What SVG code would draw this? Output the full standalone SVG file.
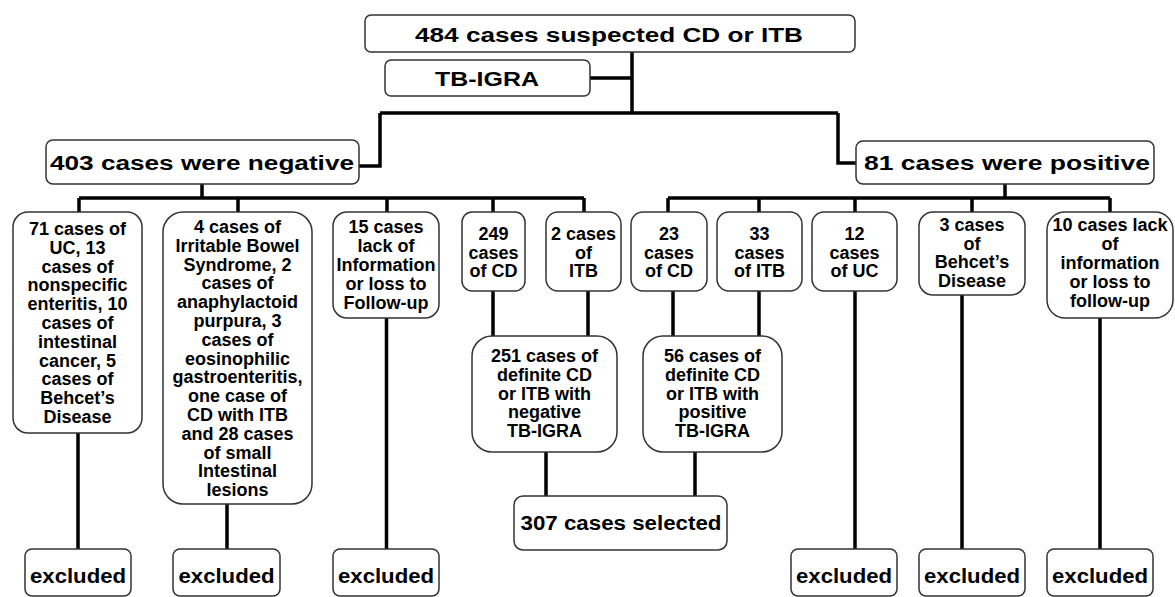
<svg xmlns="http://www.w3.org/2000/svg" width="1175" height="597" viewBox="0 0 1175 597">
<style>
.box{fill:#fff;stroke:#333;stroke-width:1.5}
.t{font-family:"Liberation Sans",Arial,sans-serif;font-weight:bold;fill:#000;text-anchor:middle}
.big{font-size:20px}
.row{font-size:18px}
.ex{font-size:20px}
.c{fill:none;stroke:#000;stroke-width:3.5;stroke-linecap:butt;stroke-linejoin:miter}
</style>
<rect width="1175" height="597" fill="#fff"/>
<g id="connectors">
<path class="c" d="M632,52V113M590,78H632M380,113H838M380,113V166H359M838,113V163H856"/>
<path class="c" d="M202,184V198M79,198H584M79,198V212M238,198V212M387,198V212M493,198V212M584,198V212"/>
<path class="c" d="M1005,184V198M668,198H1110M668,198V212M759,198V212M855,198V212M972,198V212M1110,198V212"/>
<path class="c" d="M493,291V336M588,291V336M673,291V336M759,291V336"/>
<path class="c" d="M546,452V496M695,452V496"/>
<path class="c" d="M78,433V549M227,504V549M386.5,318V549M855,291V549M962,295V549M1100,318V549"/>
</g>
<g id="n-top"><rect class="box" x="365" y="15" width="490" height="37" rx="6"/><text class="t big" x="609" y="42" textLength="388" lengthAdjust="spacingAndGlyphs">484 cases suspected CD or ITB</text></g>
<g id="n-igra"><rect class="box" x="385" y="60" width="205" height="36" rx="6"/><text class="t big" x="487" y="86" textLength="104" lengthAdjust="spacingAndGlyphs">TB-IGRA</text></g>
<g id="n-neg"><rect class="box" x="46" y="140" width="313" height="44" rx="7"/><text class="t big" x="202" y="170" textLength="304" lengthAdjust="spacingAndGlyphs">403 cases were negative</text></g>
<g id="n-pos"><rect class="box" x="856" y="141" width="298" height="43" rx="7"/><text class="t big" x="1007" y="170" textLength="286" lengthAdjust="spacingAndGlyphs">81 cases were positive</text></g>
<g id="n-b1"><rect class="box" x="13" y="212" width="129" height="221" rx="15"/><text class="t row" x="77.5" y="235"><tspan x="77.5">71 cases of</tspan><tspan x="77.5" dy="18.8">UC, 13</tspan><tspan x="77.5" dy="18.8">cases of</tspan><tspan x="77.5" dy="18.8">nonspecific</tspan><tspan x="77.5" dy="18.8">enteritis, 10</tspan><tspan x="77.5" dy="18.8">cases of</tspan><tspan x="77.5" dy="18.8">intestinal</tspan><tspan x="77.5" dy="18.8">cancer, 5</tspan><tspan x="77.5" dy="18.8">cases of</tspan><tspan x="77.5" dy="18.8">Behcet’s</tspan><tspan x="77.5" dy="18.8">Disease</tspan></text></g>
<g id="n-b2"><rect class="box" x="163" y="212" width="149" height="292" rx="20"/><text class="t row" x="237.5" y="233"><tspan x="237.5">4 cases of</tspan><tspan x="237.5" dy="18.8">Irritable Bowel</tspan><tspan x="237.5" dy="18.8">Syndrome, 2</tspan><tspan x="237.5" dy="18.8">cases of</tspan><tspan x="237.5" dy="18.8">anaphylactoid</tspan><tspan x="237.5" dy="18.8">purpura, 3</tspan><tspan x="237.5" dy="18.8">cases of</tspan><tspan x="237.5" dy="18.8">eosinophilic</tspan><tspan x="237.5" dy="18.8">gastroenteritis,</tspan><tspan x="237.5" dy="18.8">one case of</tspan><tspan x="237.5" dy="18.8">CD with ITB</tspan><tspan x="237.5" dy="18.8">and 28 cases</tspan><tspan x="237.5" dy="18.8">of small</tspan><tspan x="237.5" dy="18.8">Intestinal</tspan><tspan x="237.5" dy="18.8">lesions</tspan></text></g>
<g id="n-b3"><rect class="box" x="333" y="212" width="106" height="106" rx="14"/><text class="t row" x="386" y="233"><tspan x="386">15 cases</tspan><tspan x="386" dy="19">lack of</tspan><tspan x="386" dy="19">Information</tspan><tspan x="386" dy="19">or loss to</tspan><tspan x="386" dy="19">Follow-up</tspan></text></g>
<g id="n-b4"><rect class="box" x="462" y="212" width="63" height="79" rx="10"/><text class="t row" x="493.5" y="240"><tspan x="493.5">249</tspan><tspan x="493.5" dy="18.5">cases</tspan><tspan x="493.5" dy="18.5">of CD</tspan></text></g>
<g id="n-b5"><rect class="box" x="546" y="212" width="75" height="79" rx="12"/><text class="t row" x="583.5" y="240"><tspan x="583.5">2 cases</tspan><tspan x="583.5" dy="18.5">of</tspan><tspan x="583.5" dy="18.5">ITB</tspan></text></g>
<g id="n-b6"><rect class="box" x="631" y="212" width="76" height="79" rx="12"/><text class="t row" x="669" y="240"><tspan x="669">23</tspan><tspan x="669" dy="18.5">cases</tspan><tspan x="669" dy="18.5">of CD</tspan></text></g>
<g id="n-b7"><rect class="box" x="717" y="212" width="85" height="79" rx="12"/><text class="t row" x="759.5" y="240"><tspan x="759.5">33</tspan><tspan x="759.5" dy="18.5">cases</tspan><tspan x="759.5" dy="18.5">of ITB</tspan></text></g>
<g id="n-b8"><rect class="box" x="812" y="212" width="85" height="79" rx="12"/><text class="t row" x="854.5" y="240"><tspan x="854.5">12</tspan><tspan x="854.5" dy="18.5">cases</tspan><tspan x="854.5" dy="18.5">of UC</tspan></text></g>
<g id="n-b9"><rect class="box" x="919" y="212" width="106" height="83" rx="14"/><text class="t row" x="972" y="231"><tspan x="972">3 cases</tspan><tspan x="972" dy="18.7">of</tspan><tspan x="972" dy="18.7">Behcet’s</tspan><tspan x="972" dy="18.7">Disease</tspan></text></g>
<g id="n-b10"><rect class="box" x="1047" y="212" width="126" height="106" rx="18"/><text class="t row" x="1110" y="231"><tspan x="1110">10 cases lack</tspan><tspan x="1110" dy="19">of</tspan><tspan x="1110" dy="19">information</tspan><tspan x="1110" dy="19">or loss to</tspan><tspan x="1110" dy="19">follow-up</tspan></text></g>
<g id="n-neg2"><rect class="box" x="472" y="336" width="145" height="116" rx="20"/><text class="t row" x="544.5" y="362"><tspan x="544.5">251 cases of</tspan><tspan x="544.5" dy="18.8">definite CD</tspan><tspan x="544.5" dy="18.8">or ITB with</tspan><tspan x="544.5" dy="18.8">negative</tspan><tspan x="544.5" dy="18.8">TB-IGRA</tspan></text></g>
<g id="n-pos2"><rect class="box" x="643" y="336" width="139" height="116" rx="20"/><text class="t row" x="712.5" y="362"><tspan x="712.5">56 cases of</tspan><tspan x="712.5" dy="18.8">definite CD</tspan><tspan x="712.5" dy="18.8">or ITB with</tspan><tspan x="712.5" dy="18.8">positive</tspan><tspan x="712.5" dy="18.8">TB-IGRA</tspan></text></g>
<g id="n-sel"><rect class="box" x="514" y="496" width="213" height="54" rx="9"/><text class="t big" x="621" y="530" textLength="201" lengthAdjust="spacingAndGlyphs">307 cases selected</text></g>
<g id="n-ex1"><rect class="box" x="25" y="549" width="106" height="47" rx="7"/><text class="t ex" x="78" y="583" textLength="96" lengthAdjust="spacingAndGlyphs">excluded</text></g>
<g id="n-ex2"><rect class="box" x="173" y="549" width="107" height="47" rx="7"/><text class="t ex" x="226.5" y="583" textLength="96" lengthAdjust="spacingAndGlyphs">excluded</text></g>
<g id="n-ex3"><rect class="box" x="333" y="549" width="106" height="47" rx="7"/><text class="t ex" x="386" y="583" textLength="96" lengthAdjust="spacingAndGlyphs">excluded</text></g>
<g id="n-ex4"><rect class="box" x="791" y="549" width="106" height="47" rx="7"/><text class="t ex" x="844" y="583" textLength="96" lengthAdjust="spacingAndGlyphs">excluded</text></g>
<g id="n-ex5"><rect class="box" x="919" y="549" width="106" height="47" rx="7"/><text class="t ex" x="972" y="583" textLength="96" lengthAdjust="spacingAndGlyphs">excluded</text></g>
<g id="n-ex6"><rect class="box" x="1047" y="549" width="106" height="47" rx="7"/><text class="t ex" x="1100" y="583" textLength="96" lengthAdjust="spacingAndGlyphs">excluded</text></g>
</svg>
